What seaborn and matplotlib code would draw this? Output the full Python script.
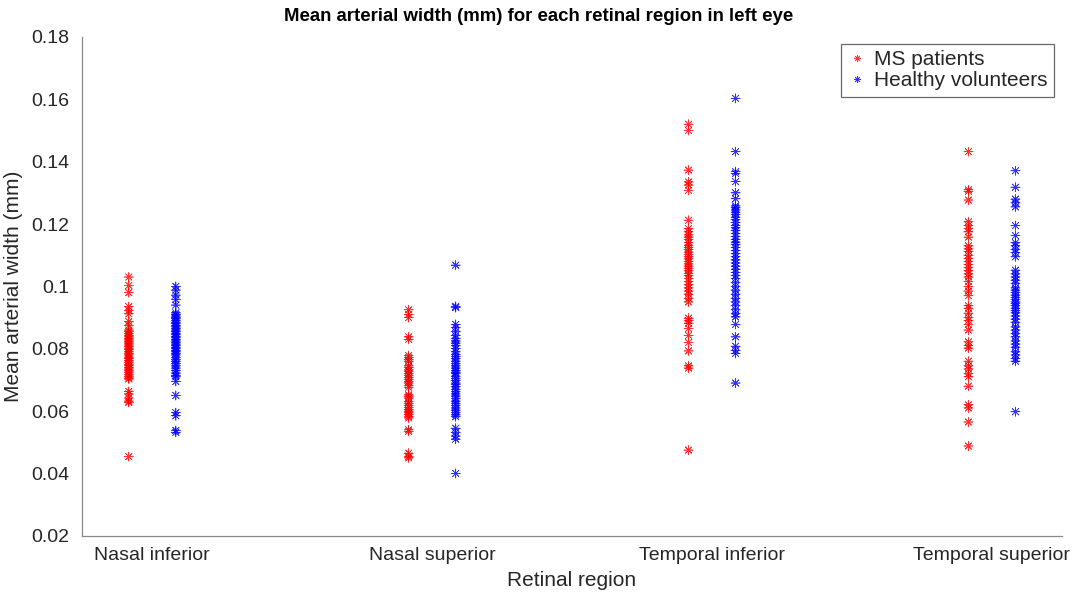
import matplotlib
matplotlib.use("Agg")
import matplotlib.pyplot as plt
from matplotlib.lines import Line2D
from matplotlib.ticker import FuncFormatter
import numpy as np
import pandas as pd
import seaborn as sns

# ---------------- data ----------------
regions = ["Nasal inferior", "Nasal superior", "Temporal inferior", "Temporal superior"]
groups = ["MS patients", "Healthy volunteers"]

ms_nasal_inferior = [0.1030, 0.1003, 0.0980, 0.0935, 0.0923, 0.0912, 0.0887, 0.0875, 0.0860, 0.0855,
                     0.0848, 0.0842, 0.0838, 0.0832, 0.0828, 0.0822, 0.0818, 0.0812, 0.0808, 0.0802,
                     0.0797, 0.0790, 0.0785, 0.0780, 0.0773, 0.0768, 0.0762, 0.0757, 0.0750, 0.0745,
                     0.0740, 0.0735, 0.0730, 0.0725, 0.0718, 0.0712, 0.0706, 0.0703, 0.0663, 0.0655,
                     0.0642, 0.0632, 0.0628, 0.0454]
hv_nasal_inferior = [0.1000, 0.0988, 0.0972, 0.0958, 0.0940, 0.0915, 0.0910, 0.0905, 0.0900, 0.0896,
                     0.0890, 0.0885, 0.0880, 0.0875, 0.0870, 0.0865, 0.0860, 0.0855, 0.0850, 0.0845,
                     0.0840, 0.0835, 0.0830, 0.0825, 0.0820, 0.0815, 0.0810, 0.0805, 0.0800, 0.0795,
                     0.0790, 0.0785, 0.0780, 0.0772, 0.0765, 0.0760, 0.0752, 0.0745, 0.0738, 0.0730,
                     0.0722, 0.0715, 0.0710, 0.0695, 0.0650, 0.0595, 0.0585, 0.0538, 0.0532]

ms_nasal_superior = [0.0925, 0.0910, 0.0900, 0.0838, 0.0830, 0.0778, 0.0772, 0.0765, 0.0760, 0.0745,
                     0.0740, 0.0732, 0.0728, 0.0720, 0.0715, 0.0708, 0.0702, 0.0695, 0.0690, 0.0682,
                     0.0676, 0.0652, 0.0648, 0.0642, 0.0630, 0.0625, 0.0618, 0.0612, 0.0605, 0.0600,
                     0.0595, 0.0590, 0.0583, 0.0578, 0.0540, 0.0535, 0.0465, 0.0455, 0.0450]
hv_nasal_superior = [0.1068, 0.0936, 0.0932, 0.0878, 0.0868, 0.0855, 0.0842, 0.0833, 0.0825, 0.0818,
                     0.0810, 0.0800, 0.0790, 0.0782, 0.0775, 0.0768, 0.0760, 0.0752, 0.0745, 0.0738,
                     0.0730, 0.0725, 0.0720, 0.0712, 0.0705, 0.0698, 0.0690, 0.0685, 0.0678, 0.0670,
                     0.0662, 0.0655, 0.0648, 0.0640, 0.0632, 0.0625, 0.0618, 0.0610, 0.0603, 0.0595,
                     0.0588, 0.0582, 0.0545, 0.0532, 0.0520, 0.0510, 0.0400]

ms_temporal_inferior = [0.1520, 0.1500, 0.1373, 0.1335, 0.1325, 0.1308, 0.1212, 0.1185, 0.1175, 0.1165,
                        0.1158, 0.1150, 0.1140, 0.1132, 0.1125, 0.1118, 0.1110, 0.1102, 0.1095, 0.1088,
                        0.1080, 0.1072, 0.1065, 0.1058, 0.1050, 0.1042, 0.1035, 0.1025, 0.1015, 0.1005,
                        0.0995, 0.0985, 0.0975, 0.0962, 0.0950, 0.0898, 0.0890, 0.0882, 0.0865, 0.0843,
                        0.0820, 0.0793, 0.0745, 0.0738, 0.0475]
hv_temporal_inferior = [0.1603, 0.1432, 0.1368, 0.1362, 0.1336, 0.1300, 0.1281, 0.1258, 0.1252, 0.1245,
                        0.1238, 0.1230, 0.1222, 0.1215, 0.1205, 0.1195, 0.1188, 0.1180, 0.1170, 0.1160,
                        0.1150, 0.1142, 0.1135, 0.1125, 0.1115, 0.1105, 0.1095, 0.1085, 0.1075, 0.1065,
                        0.1055, 0.1045, 0.1035, 0.1025, 0.1012, 0.1000, 0.0988, 0.0975, 0.0962, 0.0950,
                        0.0938, 0.0925, 0.0912, 0.0902, 0.0878, 0.0838, 0.0808, 0.0795, 0.0785, 0.0690]

ms_temporal_superior = [0.1432, 0.1310, 0.1305, 0.1277, 0.1207, 0.1195, 0.1185, 0.1175, 0.1158, 0.1130,
                        0.1120, 0.1112, 0.1100, 0.1090, 0.1080, 0.1070, 0.1060, 0.1050, 0.1040, 0.1030,
                        0.1015, 0.1000, 0.0985, 0.0970, 0.0938, 0.0930, 0.0914, 0.0900, 0.0890, 0.0878,
                        0.0860, 0.0822, 0.0810, 0.0802, 0.0760, 0.0745, 0.0735, 0.0720, 0.0710, 0.0680,
                        0.0620, 0.0610, 0.0565, 0.0488]
hv_temporal_superior = [0.1371, 0.1318, 0.1280, 0.1268, 0.1255, 0.1195, 0.1163, 0.1140, 0.1130, 0.1118,
                        0.1108, 0.1095, 0.1052, 0.1040, 0.1030, 0.1020, 0.1010, 0.0995, 0.0988, 0.0980,
                        0.0972, 0.0965, 0.0958, 0.0950, 0.0945, 0.0938, 0.0930, 0.0922, 0.0915, 0.0905,
                        0.0895, 0.0885, 0.0870, 0.0860, 0.0848, 0.0838, 0.0825, 0.0815, 0.0805, 0.0790,
                        0.0780, 0.0768, 0.0760, 0.0598]

ms_values = [ms_nasal_inferior, ms_nasal_superior, ms_temporal_inferior, ms_temporal_superior]
hv_values = [hv_nasal_inferior, hv_nasal_superior, hv_temporal_inferior, hv_temporal_superior]

yticks = [0.02, 0.04, 0.06, 0.08, 0.10, 0.12, 0.14, 0.16, 0.18]

# ---------------- style ----------------
sns.set_theme(style="white")
plt.rcParams["font.family"] = ["Liberation Sans", "DejaVu Sans"]

colors = {"MS patients": "#ff0000", "Healthy volunteers": "#0000ff"}
group_offset = {"MS patients": -0.083, "Healthy volunteers": 0.085}
asterisk = (8, 2, 0)
axis_gray = "#8a8a8a"
text_col = "#262626"

rows = []
for i, reg in enumerate(regions):
    for grp, vals in zip(groups, [ms_values[i], hv_values[i]]):
        for v in vals:
            rows.append({"region": reg, "pos": i + 1 + group_offset[grp], "group": grp, "width": v})
df = pd.DataFrame(rows)

fig = plt.figure(figsize=(10.8, 5.96), dpi=100)
ax = fig.add_axes([0.076, 0.101, 0.907, 0.837])

sns.scatterplot(data=df, x="pos", y="width", hue="group", hue_order=groups,
                palette=colors, marker=asterisk, s=42, linewidth=0.5, alpha=0.8,
                ax=ax, legend=False)

ax.set_xlim(0.75, 4.25)
ax.set_ylim(0.02, 0.18)
ax.set_xticks(range(1, len(regions) + 1))
ax.set_xticklabels(regions)
ax.set_yticks(yticks)
ax.yaxis.set_major_formatter(FuncFormatter(lambda v, p: f"{v:g}"))

for s in ["top", "right"]:
    ax.spines[s].set_visible(False)
for s in ["left", "bottom"]:
    ax.spines[s].set_color(axis_gray)
    ax.spines[s].set_linewidth(0.9)

ax.tick_params(axis="both", direction="in", length=5, width=0.9, color=axis_gray,
               labelsize=14, labelcolor=text_col)
ax.tick_params(axis="y", pad=9)
ax.tick_params(axis="x", pad=8)

ax.set_xlabel("Retinal region", fontsize=15, color=text_col, labelpad=5)
ax.set_ylabel("Mean arterial width (mm)", fontsize=15, color=text_col, labelpad=6)

fig.text(0.499, 0.973, "Mean arterial width (mm) for each retinal region in left eye",
         ha="center", va="center", fontsize=13.4, fontweight="bold", color="black")

handles = [Line2D([], [], linestyle="none", marker=asterisk, markersize=5,
                  markeredgewidth=0.6, alpha=0.8, color=colors[g]) for g in groups]
leg = ax.legend(handles, groups, loc="upper right", bbox_to_anchor=(0.976, 0.926),
                bbox_transform=fig.transFigure, borderaxespad=0, fontsize=15,
                frameon=True, fancybox=False, handlelength=0.9, handletextpad=0.4,
                borderpad=0.3, labelspacing=0.1)
leg.get_frame().set_edgecolor("#444444")
leg.get_frame().set_linewidth(0.9)

fig.savefig("out.png", dpi=100, facecolor="white")
